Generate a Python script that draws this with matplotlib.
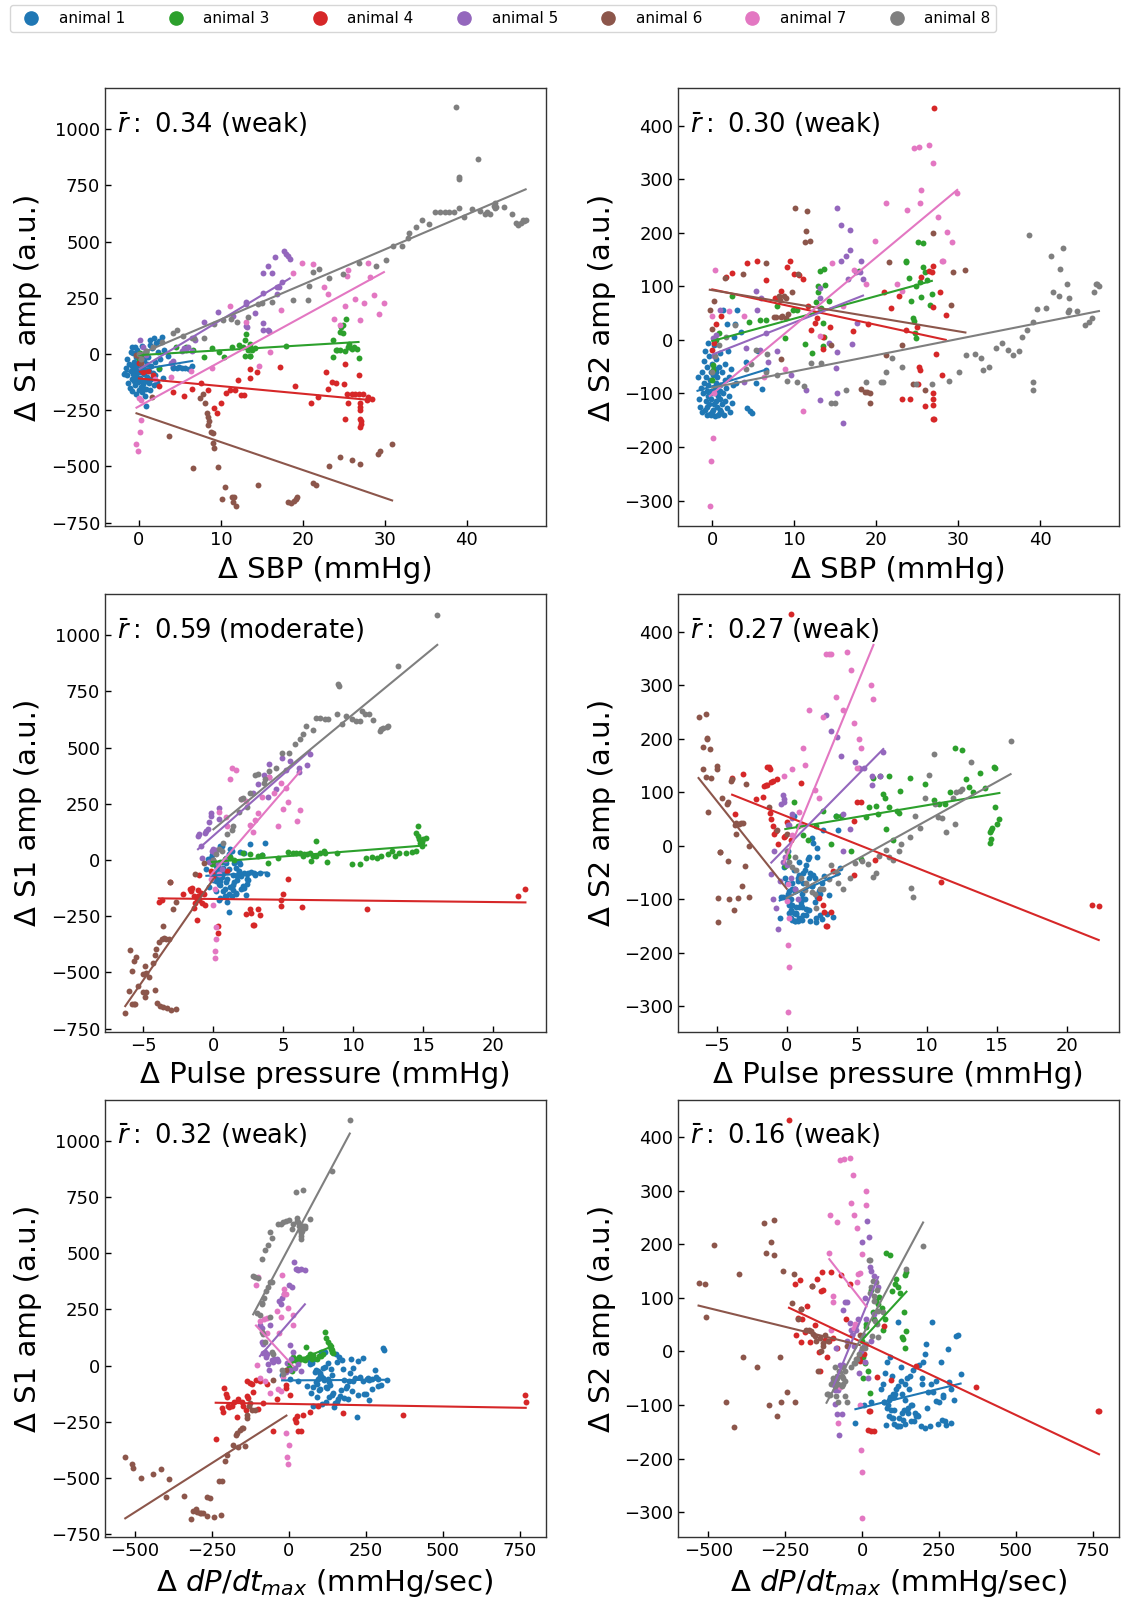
import matplotlib.pyplot as plt
from matplotlib.lines import Line2D
import numpy as np

labels = ['animal 1', 'animal 3', 'animal 4', 'animal 5', 'animal 6', 'animal 7', 'animal 8']
colors = ['tab:blue', 'tab:green', 'tab:red', 'tab:purple', 'tab:brown', 'tab:pink', 'tab:gray']
r_text = ['0.34 (weak)', '0.30 (weak)', '0.59 (moderate)', '0.27 (weak)', '0.32 (weak)', '0.16 (weak)']

# animal 1: (dSBP, dPP, ddP/dt, dS1, dS2) per beat
a1 = [(-1.6, 0.2, 95, -60, -110), (-1.5, 0.5, 120, -95, -125), (-1.4, 0.1, 88, -20, -90),
      (-1.3, 0.8, 140, -130, -60), (-1.2, 0.3, 105, -45, -135), (-1.1, 1.1, 160, -150, -100),
      (-1.0, -0.2, 75, 10, -40), (-1.0, 0.6, 130, -75, -80), (-0.9, 1.4, 170, -110, -130),
      (-0.9, 0.0, 82, 30, -20), (-0.8, 0.9, 150, -165, -115), (-0.8, 0.4, 110, -55, -70),
      (-0.7, 1.7, 190, -90, -140), (-0.7, -0.4, 70, 5, -95), (-0.6, 1.2, 145, -120, -50),
      (-0.6, 0.7, 100, -35, -125), (-0.5, 2.0, 210, -70, -105), (-0.5, 0.2, 90, -140, -85),
      (-0.4, 1.5, 175, -15, -120), (-0.4, 0.9, 125, -100, -30), (-0.3, 0.4, 78, -180, -138),
      (-0.3, 1.8, 230, -50, -75), (-0.2, 1.0, 135, -85, -110), (-0.2, -0.1, 68, 20, -60),
      (-0.1, 2.2, 250, -125, -95), (-0.1, 0.6, 115, -65, -140), (0.0, 1.3, 155, -160, -45),
      (0.0, 0.3, 85, -30, -100), (0.1, 2.4, 270, -105, -130), (0.1, 0.8, 118, -5, -65),
      (0.2, 1.6, 180, -145, -120), (0.2, 0.1, 92, -80, -10), (0.3, 1.1, 140, -40, -90),
      (0.3, 2.1, 205, -115, -143), (0.4, 0.5, 108, -170, -80), (0.4, 1.9, 240, 35, -55),
      (0.5, 0.7, 128, -60, -115), (0.5, 1.4, 165, -135, -35), (0.6, 0.2, 96, -25, -125),
      (0.6, 2.5, 290, -90, -70), (0.7, 1.0, 148, -185, -105), (0.7, 0.6, 112, -10, -140),
      (0.8, 1.7, 195, -70, -50), (0.8, -0.3, 72, -120, -95), (0.9, 1.2, 158, 15, -130),
      (0.9, 2.3, 262, -155, -85), (1.0, 0.4, 102, -45, -110), (1.0, 1.5, 185, -100, -25),
      (1.1, 0.9, 138, -15, -135), (1.2, 2.0, 225, -130, -60), (1.2, 0.3, 88, -75, -120),
      (1.3, 1.3, 162, 40, -100), (1.4, 0.8, 122, -160, -140), (1.5, 1.8, 215, -55, -75),
      (1.5, 0.5, 98, -110, -45), (1.6, 1.1, 172, 25, -115), (1.7, 2.4, 300, -85, -90),
      (1.8, 0.7, 132, -140, -128), (1.9, 1.6, 198, -35, -20), (2.0, 0.2, 80, -95, -105),
      (2.1, 1.2, 152, 50, -70), (2.2, 2.1, 245, -125, -135), (2.3, 0.9, 126, 10, -55),
      (2.4, 1.4, 178, -65, -118), (2.5, 0.6, 105, 60, -85), (2.6, 1.9, 280, -20, 5),
      (2.8, 3.7, 306, 77, 29), (1.8, 2.6, 310, 70, 30), (1.3, 0.5, 116, 62, 55),
      (2.9, 0.4, 100, -105, -80), (0.8, 1.1, 220, -230, -139), (4.1, 3.8, 320, -64, -42),
      (4.2, 2.9, 258, -56, -128), (4.6, 3.3, 290, -60, -133), (4.9, 2.5, 271, -58, -137),
      (5.3, 2.4, 262, -62, -81), (5.6, 2.2, 255, -60, -20), (6.1, 3.0, 240, -68, -92),
      (6.5, 2.7, 283, -52, -57), (3.5, 1.8, 209, -10, 14), (3.0, 3.5, 226, 20, 55),
      (-0.5, 2.2, 203, 30, -5), (0.0, -0.5, -22, -40, -134), (0.3, 0.1, 5, -60, -100),
      (-1.8, 0.0, 60, -90, -70), (1.0, 0.0, 30, -70, -95), (0.5, 1.6, 193, -150, -60)]

# other animals: (x, dS1, dS2) per beat, one list per x variable
a3_sbp = [(0.0, -20, -75), (0.1, -10, -46), (0.1, 5, -56), (0.4, -5, 0), (0.8, 10, 12), (2.4, -60, 82),
          (4.5, 33, 33), (5.8, 30, 37), (6.6, 20, 37), (7.9, -12, 64), (8.9, 25, 3), (9.8, 10, 56),
          (10.4, -12, 56), (11.3, 30, -8), (12.2, 40, -25), (12.7, 33, 70), (12.9, -10, 100), (12.9, 62, 90),
          (13.1, 90, 128), (13.3, 18, 60), (13.5, -9, 31), (13.5, -9, -12), (13.6, 45, 6), (13.6, 30, 132),
          (13.8, 20, 103), (14.2, 25, 72), (17.9, 36, 128), (23.7, -15, 145), (23.7, 62, 148), (24.0, 18, 116),
          (24.2, 18, 73), (24.5, 97, 40), (24.6, 18, 36), (24.7, 122, 12), (24.9, 129, 3), (24.9, 92, 101),
          (25.1, 15, 183), (25.3, 154, 109), (25.5, 33, 80), (25.7, 33, 181), (25.7, 45, 137), (26.0, 24, 126),
          (26.2, 33, 111), (26.6, 24, 65), (26.8, -16, 86)]
a4_sbp = [(0.0, -40, -19), (0.2, -70, -5), (0.5, -80, 30), (1.1, -75, 44), (1.7, -95, 117), (2.4, -142, 125),
          (4.2, -168, 143), (5.5, -187, 148), (6.5, -157, 111), (7.6, -131, 78), (8.4, -160, 92), (9.1, -239, 137),
          (9.5, -264, 148), (10.0, -217, 123), (10.6, -172, 121), (11.1, -160, 113), (11.7, -160, 64),
          (12.1, -116, 19), (12.5, -182, 31), (12.8, -182, 40), (13.5, -65, -17), (13.5, -108, 5), (14.4, -82, 24),
          (17.2, -59, 16), (19.0, -142, 29), (21.0, -220, 90), (21.8, -190, 60), (22.8, -82, 81), (23.1, -157, -110),
          (23.6, -123, 19), (24.1, -128, -111), (25.0, -134, 24), (25.1, -289, -83), (25.2, -45, -50),
          (25.4, -180, -56), (25.5, -217, 118), (26.0, -180, -123), (26.4, -180, 129), (26.8, -180, 127),
          (26.9, -95, 138), (27.0, -217, 62), (27.0, -235, -100), (27.0, -250, -110), (27.0, -289, -121),
          (27.0, -323, -147), (27.1, -300, 433), (27.1, -310, -148), (27.3, -180, -26), (27.8, -205, 90),
          (28.0, -190, -65), (28.5, -200, 47)]
a5_sbp = [(0.1, 62, 3), (0.2, -20, -30), (0.5, 30, 10), (0.9, -5, 55), (3.9, -40, -78), (4.1, -31, -16),
          (5.3, 15, 92), (5.5, 25, 56), (5.8, 20, -19), (6.0, 30, 79), (6.5, 15, 12), (6.8, 62, -42),
          (7.9, 141, -20), (9.6, 185, -66), (11.5, 170, -93), (13.1, 233, 97), (13.1, 223, 56), (13.1, 126, -113),
          (13.2, 122, 78), (14.2, 181, -6), (15.1, 137, -53), (15.2, 107, 246), (15.2, 270, -100), (15.7, 107, 215),
          (15.9, 104, -156), (16.8, 267, 206), (16.8, 300, 168), (17.1, 300, -8), (15.2, 362, -22), (16.3, 362, 157),
          (15.7, 393, 148), (16.6, 430, 114), (17.5, 320, 126), (17.7, 460, 31), (18.0, 445, 126), (18.2, 435, 148),
          (18.4, 423, 114)]
a6_sbp = [(-0.3, -5, 56), (0.0, -10, 21), (0.2, -40, 73), (1.6, -193, 116), (3.7, -365, 123), (6.6, -509, 144),
          (7.5, -197, 42), (7.8, -180, 42), (8.1, -217, 82), (8.3, -264, 75), (8.4, -280, 42), (8.5, -300, 44),
          (8.4, -318, -36), (8.8, -346, 82), (9.0, -350, 40), (9.0, -395, 78), (9.2, -420, 48), (9.7, -502, 89),
          (10.1, -643, 247), (10.5, -590, 123), (11.3, -638, 182), (11.6, -638, 241), (11.9, -677, 184),
          (11.5, -660, 204), (14.5, -583, -9), (18.2, -660, -92), (18.6, -665, -97), (18.9, -655, -97),
          (19.2, -645, -118), (19.3, -635, -100), (21.2, -573, -29), (21.6, -583, 145), (23.2, -497, -9),
          (24.5, -457, -82), (26.0, -472, -93), (27.0, -491, 200), (29.2, -447, 65), (29.4, -430, 126),
          (30.9, -401, 130)]
a7_sbp = [(-0.3, -402, -310), (-0.1, -432, -226), (0.1, -346, -184), (0.2, -294, -100), (0.0, -197, 45),
          (0.3, -205, 131), (2.0, -113, 53), (3.9, -101, 45), (6.3, -75, -70), (8.9, -64, -55), (11.1, 215, -133),
          (13.1, 144, 7), (14.6, -53, 144), (16.0, 9, 64), (17.3, 196, 130), (18.8, 359, 105), (19.9, 407, 185),
          (21.2, 399, 255), (22.6, 300, 105), (23.1, 266, 92), (23.8, 157, 242), (24.6, 129, 359), (25.2, 215, 361),
          (25.5, 374, 279), (25.4, 347, 255), (26.4, 246, 363), (27.0, 151, 330), (27.5, 229, 230), (28.0, 407, 148),
          (28.2, 344, 148), (28.7, 261, 202), (29.3, 178, 182), (29.9, 226, 275)]
a8_sbp = [(0.0, 0, -60), (0.3, -20, -31), (0.8, 15, -10), (1.7, 30, 6), (2.8, 55, 28), (4.1, 95, -55),
          (4.7, 107, -45), (5.4, 80, -19), (6.5, 70, -60), (6.7, 72, -27), (7.9, 70, -65), (9.1, 134, -77),
          (10.3, 150, -79), (11.2, 154, -86), (12.0, 141, -44), (13.3, 163, -44), (14.5, 221, -117), (15.0, 226, -117),
          (16.3, 232, -93), (18.8, 240, -79), (20.6, 240, -79), (20.8, 304, -79), (21.2, 367, -60), (22.0, 378, -34),
          (23.2, 338, -50), (24.9, 356, -82), (26.8, 404, -82), (28.9, 392, -77), (30.1, 417, -60), (31.0, 482, -29),
          (32.1, 482, -27), (32.8, 516, -33), (33.0, 539, -56), (33.8, 567, -51), (34.6, 597, -16), (35.4, 579, -6),
          (36.1, 634, -19), (36.7, 634, -29), (37.4, 631, -21), (37.8, 631, 6), (38.4, 632, 19), (38.7, 1097, 196),
          (39.1, 787, 34), (39.1, 778, -78), (39.1, 650, -93), (39.7, 608, 57), (40.7, 644, 60), (41.4, 867, 156),
          (41.6, 637, 90), (42.3, 623, 82), (42.5, 630, 133), (42.8, 623, 172), (43.3, 660, 105), (43.5, 671, 79),
          (43.4, 649, 52), (43.6, 655, 55), (44.5, 653, 53), (45.5, 625, 27), (46.0, 585, 34), (46.3, 573, 40),
          (46.6, 585, 90), (46.9, 597, 105), (47.2, 597, 100), (47.0, 590, 105)]

a3_pp = [(-0.1, -20, -37), (0.1, -15, -19), (0.5, -10, 81), (0.8, 5, 37), (1.2, 15, 20), (1.5, 0, 10),
         (2.1, 33, 37), (2.6, 25, 65), (3.2, 18, 3), (3.5, 20, 56), (3.9, -12, 56), (4.6, 10, -9), (5.3, 36, -25),
         (5.7, 33, 53), (5.9, 33, 72), (6.2, 33, 126), (6.4, 18, 75), (6.5, 25, 59), (6.7, 25, 131), (6.9, 33, 97),
         (7.0, -4, 90), (7.1, 18, 31), (7.3, 85, 131), (7.3, 18, 72), (7.6, 33, 11), (7.9, 40, 65), (8.0, 33, 62),
         (8.1, -10, 102), (8.8, 33, 126), (9.9, -19, 115), (10.5, -19, 85), (10.9, 10, 78), (11.3, 15, 78),
         (11.7, 10, 100), (12.0, 18, 182), (12.5, 28, 179), (12.8, 40, 125), (13.0, 18, 109), (13.3, 33, 100),
         (13.8, 33, 136), (14.2, 37, 108), (14.5, 122, 25), (14.5, 40, 6), (14.6, 151, 30), (14.6, 107, 12),
         (14.7, 92, 34), (14.8, 77, 148), (14.9, 62, 145), (14.9, 80, 73), (15.0, 92, 40), (15.2, 96, 50)]
a4_pp = [(-3.9, -185, 126), (-3.7, -180, 60), (-3.1, -96, 134), (-2.2, -150, 88), (-1.7, -130, 92),
         (-1.6, -140, 111), (-1.5, -123, 114), (-1.4, -160, 148), (-1.4, -215, 114), (-1.3, -190, 148),
         (-1.2, -175, 62), (-1.2, -269, 143), (-1.1, -160, 50), (-1.1, -135, 120), (-1.0, -68, 37),
         (-1.0, -180, 121), (-0.9, -145, 22), (-0.8, -190, 28), (-0.7, -150, 125), (-0.6, -202, 4),
         (-0.2, -49, 16), (-0.1, -60, 19), (0.0, -70, 44), (0.3, -323, 433), (0.3, -294, 10), (1.0, -49, 117),
         (2.3, -242, -98), (2.6, -220, -111), (2.7, -235, -124), (2.8, -290, -149), (2.9, -290, -150),
         (3.2, -220, -123), (3.3, -246, -47), (4.8, -178, 46), (4.8, -205, -54), (5.0, -150, 81), (5.3, -86, 81),
         (6.3, -209, -27), (11.0, -217, -67), (21.8, -160, -111), (22.3, -130, -112)]
a5_pp = [(-1.1, 107, -53), (-1.0, 114, -100), (-0.9, 60, -9), (-0.8, 10, -117), (-0.6, 122, -156),
         (-0.5, 129, -65), (-0.4, 137, 78), (-0.3, 169, 95), (-0.2, 211, 88), (-0.2, 196, 82), (-0.1, 40, -20),
         (0.0, 50, -35), (0.1, 30, 39), (0.2, 45, 39), (0.4, 230, 52), (0.4, 184, 60), (0.3, -20, -60),
         (0.6, -40, -80), (-0.3, -10, -30), (0.8, 0, -100), (2.8, 300, 245), (3.2, 340, 214), (3.6, 380, 204),
         (3.9, 278, 167), (4.0, 426, -9), (4.0, 371, 60), (4.5, 315, 31), (4.9, 455, 156), (5.2, 400, 146),
         (5.5, 441, 146), (6.1, 390, 131), (6.1, 410, 113), (6.7, 423, 131), (6.9, 470, 175)]
a6_pp = [(-6.3, -680, 240), (-6.0, -583, 184), (-5.95, -402, 144), (-5.8, -643, 129), (-5.8, -494, 246),
         (-5.7, -643, 202), (-5.7, -450, 199), (-5.6, -643, 64), (-5.5, -432, 181), (-5.4, -560, 126),
         (-5.0, -588, 149), (-5.0, -509, 144), (-4.9, -472, -97), (-4.9, -610, -142), (-4.8, -588, -11),
         (-4.8, -502, -11), (-4.6, -520, 89), (-4.3, -460, 78), (-4.2, -424, -29), (-4.2, -579, 82),
         (-4.1, -398, -100), (-4.0, -635, 121), (-3.9, -365, 125), (-3.8, -650, -120), (-3.7, -350, 39),
         (-3.6, -294, 22), (-3.6, -655, 42), (-3.5, -346, -97), (-3.4, -350, 40), (-3.3, -660, 42),
         (-3.2, -353, -75), (-3.1, -96, 42), (-3.0, -668, -37), (-2.9, -220, 116), (-2.7, -187, 0),
         (-2.7, -662, -95), (-1.3, -64, 72), (-0.7, -15, 30), (0.0, 0, 22)]
a7_pp = [(-0.2, -86, 130), (0.0, -200, -103), (0.1, -405, -311), (0.1, -435, -185), (0.1, -131, -72),
         (0.2, -350, -226), (0.2, -297, -134), (0.4, 214, 143), (0.4, -64, 20), (0.9, 193, 64), (1.0, 150, 39),
         (1.2, 359, 183), (1.3, 407, 150), (1.6, 399, 254), (2.0, 270, 105), (2.3, 263, 90), (2.6, 156, 241),
         (2.8, 126, 358), (3.0, 180, 359), (3.2, 211, 359), (3.5, 280, 278), (4.0, 370, 254), (4.3, 300, 361),
         (4.6, 151, 329), (4.8, 341, 229), (5.0, 226, 145), (5.2, 322, 200), (5.3, 258, 182), (6.0, 174, 301),
         (6.2, 223, 274)]
a8_pp = [(0.0, 0, -10), (0.2, 25, -30), (0.4, 47, -40), (0.6, 40, -20), (0.7, 77, -45), (1.0, 114, -60),
         (1.3, 132, -82), (1.4, 151, -70), (1.8, 215, -86), (2.0, 270, -90), (2.1, 275, -117), (2.4, 237, -81),
         (2.6, 300, -81), (3.0, 378, -62), (3.2, 381, -36), (3.6, 344, -50), (3.7, 359, -70), (4.0, 396, -81),
         (4.5, 411, -61), (4.9, 478, -32), (5.4, 478, -28), (5.8, 515, -34), (6.2, 537, -58), (6.4, 562, -51),
         (6.6, 594, -19), (7.1, 577, -8), (7.3, 631, -20), (7.6, 631, -26), (8.0, 626, -9), (8.2, 626, 4),
         (8.8, 648, 17), (8.9, 785, -79), (9.0, 775, -95), (9.2, 604, 56), (9.5, 641, 33), (9.9, 626, 90),
         (10.2, 619, 132), (10.5, 619, 171), (10.6, 663, 78), (10.8, 648, 53), (11.1, 651, 51), (11.4, 622, 26),
         (11.9, 574, 90), (12.0, 582, 40), (12.1, 585, 100), (12.4, 592, 103), (12.5, 597, 106), (13.2, 864, 156),
         (16.0, 1092, 195)]

a3_dpdt = [(3, 15, -11), (9, 30, -21), (14, 38, 51), (20, 23, -36), (25, 30, -77), (30, 15, 115), (34, 38, 73),
           (38, 30, 60), (45, 30, 95), (52, 23, 88), (55, 83, 101), (63, 38, 82), (68, 53, 40), (74, 30, 60),
           (79, 45, 183), (90, 30, 180), (98, 42, 113), (106, 42, 126), (111, 53, 136), (117, 151, 120),
           (122, 121, 109), (128, 106, 26), (133, 90, 23), (138, 75, 7), (144, 57, 148), (140, 60, 143),
           (141, 70, 39), (137, 80, 73), (3, -15, -50), (11, -23, 45), (0, -5, 20)]
a4_dpdt = [(-238, -328, 432), (-219, -190, 126), (-215, -205, 30), (-210, -101, 63), (-203, -128, 133),
           (-200, -140, 17), (-199, -182, 80), (-195, -186, 60), (-186, -182, 37), (-180, -160, 85),
           (-170, -227, 17), (-164, -148, 122), (-154, -163, 50), (-148, -182, 135), (-140, -197, -1),
           (-137, -68, -36), (-135, -134, 113), (-132, -146, 148), (-127, -76, 115), (-121, -80, 21),
           (-116, -118, -11), (-108, -65, 20), (-100, -194, 148), (-94, -68, 25), (-83, -166, 7), (-70, -80, 143),
           (-53, -293, 60), (-40, -147, 126), (-10, -88, -11), (-8, -100, -17), (5, -130, -5), (20, -239, -147),
           (22, -250, -112), (25, -224, -112), (30, -292, -148), (38, -292, -149), (47, -219, -47), (70, -206, 48),
           (95, -182, -54), (176, -212, -27), (371, -219, -67), (768, -133, -111), (770, -163, -112)]
a5_dpdt = [(-94, 181, -55), (-89, 166, -98), (-89, 106, -72), (-84, 55, 6), (-83, 98, -116), (-78, 60, -72),
           (-76, 40, -156), (-72, 53, -25), (-67, 8, -116), (-64, -18, 78), (-62, 181, -25), (-56, 23, 92),
           (-51, 15, 20), (-48, 30, 92), (-40, 30, 53), (-37, 20, 40), (-32, 287, 30), (-27, 272, 10),
           (-21, 302, 40), (-15, 318, 60), (-1, 358, 204), (9, 351, 100), (16, 461, 244), (23, 430, 214),
           (27, 430, 157), (30, 425, 151), (40, 428, 141), (52, 424, 120), (-10, -30, -40), (-5, 10, 0),
           (2, -20, 30), (8, 30, -20), (12, 60, 60), (5, 90, 10), (20, -10, -50), (30, 5, 20), (38, -25, 70)]
a6_dpdt = [(-532, -408, 128), (-511, -436, 125), (-508, -454, 64), (-482, -499, 199), (-443, -481, -95),
           (-417, -461, -142), (-399, -587, 145), (-389, -504, -11), (-341, -582, -30), (-319, -684, 240),
           (-313, -647, 183), (-302, -638, -100), (-298, -650, 204), (-288, -655, 180), (-286, -658, 246),
           (-278, -658, -120), (-267, -670, -11), (-265, -587, -95), (-257, -590, 150), (-244, -673, -75),
           (-227, -514, 90), (-221, -665, 145), (-219, -514, -95), (-208, -426, 60), (-200, -400, 80),
           (-183, -352, 40), (-173, -310, 40), (-168, -300, 39), (-164, -363, 123), (-160, -287, 32),
           (-154, -280, 29), (-149, -280, 20), (-143, -360, -36), (-137, -234, 25), (-135, -220, 1),
           (-129, -180, 15), (-127, -165, 10), (-121, -197, 30), (-110, -197, 20), (-51, -63, 10), (-8, -20, 30)]
a7_dpdt = [(-107, 358, 184), (-105, 3, 254), (-100, 393, 40), (-94, 197, 104), (-94, -57, 92), (-81, 209, 241),
           (-78, -68, -134), (-72, 212, 358), (-72, 144, -67), (-60, -121, 359), (-40, 242, 361), (-35, -103, 278),
           (-31, 144, 330), (-27, -113, 255), (-26, 215, 44), (-24, 401, 52), (-18, -53, 230), (-16, 340, 130),
           (-15, 318, 145), (-8, 318, 146), (-8, -300, -100), (-5, -408, -184), (-2, -439, -311), (0, -352, -226),
           (-2, 257, 182), (12, 227, 300), (14, 180, 274)]
a8_dpdt = [(-116, 400, -79), (-110, 395, -79), (-105, 234, -81), (-100, 390, -61), (-94, 227, -49),
           (-89, 476, -30), (-89, 272, -55), (-89, 151, -64), (-86, 280, -83), (-83, 139, -45), (-81, 302, -50),
           (-78, 514, -61), (-78, 106, -95), (-76, 333, -36), (-67, 537, -45), (-67, 350, -64), (-62, 593, -50),
           (-62, 370, -30), (-62, 215, -61), (-56, 567, -36), (-56, 372, -55), (-56, 60, -83), (-51, 53, -95),
           (-35, 631, -30), (-27, 630, -21), (-24, -18, -21), (-20, 640, -14), (-18, -38, -14), (-10, 645, -5),
           (1, 647, 7), (9, 608, 7), (14, 628, 14), (23, 774, 171), (25, 658, 110), (27, 643, 171), (30, 640, 120),
           (33, 620, 29), (36, 605, 132), (38, 590, 104), (40, 575, 95), (41, 563, 57), (44, 600, 129),
           (47, 782, 115), (47, 620, 51), (52, 623, 76), (52, 610, 26), (68, 650, 73), (141, 865, 154),
           (198, 1092, 196)]

a1_sbp = [(r[0], r[3], r[4]) for r in a1]
a1_pp = [(r[1], r[3], r[4]) for r in a1]
a1_dpdt = [(r[2], r[3], r[4]) for r in a1]

rows = [
    ([a1_sbp, a3_sbp, a4_sbp, a5_sbp, a6_sbp, a7_sbp, a8_sbp], 'Δ SBP (mmHg)', (-4.15, 49.65), [0, 10, 20, 30, 40]),
    ([a1_pp, a3_pp, a4_pp, a5_pp, a6_pp, a7_pp, a8_pp], 'Δ Pulse pressure (mmHg)', (-7.75, 23.75), [-5, 0, 5, 10, 15, 20]),
    ([a1_dpdt, a3_dpdt, a4_dpdt, a5_dpdt, a6_dpdt, a7_dpdt, a8_dpdt], r'Δ $dP/dt_{max}$ (mmHg/sec)', (-598, 835),
     [-500, -250, 0, 250, 500, 750]),
]
ylabels = ['Δ S1 amp (a.u.)', 'Δ S2 amp (a.u.)']
ylims = [(-764, 1183), (-347, 470)]
yticks = [[-750, -500, -250, 0, 250, 500, 750, 1000], [-300, -200, -100, 0, 100, 200, 300, 400]]

fig = plt.figure(figsize=(11.31, 15.97), dpi=100)
lefts = [0.0928, 0.5997]
bottoms = [0.6708, 0.3540, 0.0374]

for i, (sets, xlabel, xlim, xticks) in enumerate(rows):
    for j in range(2):
        ax = fig.add_axes([lefts[j], bottoms[i], 0.3897, 0.2740])
        for k, data in enumerate(sets):
            arr = np.array(data, dtype=float)
            x = arr[:, 0]
            y = arr[:, 1 + j]
            ax.scatter(x, y, s=18, color=colors[k], linewidths=0)
            b, a = np.polyfit(x, y, 1)
            xs = np.array([x.min(), x.max()])
            ax.plot(xs, a + b * xs, color=colors[k], lw=1.5)
        ax.set_xlim(xlim)
        ax.set_ylim(ylims[j])
        ax.set_xticks(xticks)
        ax.set_yticks(yticks[j])
        ax.tick_params(direction='in', labelsize=13, length=4, width=1)
        for sp in ax.spines.values():
            sp.set_color('0.2')
            sp.set_linewidth(1.0)
        ax.set_xlabel(xlabel, fontsize=21, labelpad=5)
        ax.set_ylabel(ylabels[j], fontsize=21, labelpad=6)
        ax.text(0.027, 0.917, r'$\bar{r}:$ ' + r_text[2 * i + j], transform=ax.transAxes,
                fontsize=18.5, va='center', ha='left')

handles = [Line2D([], [], marker='o', linestyle='', color=c, markersize=9.5) for c in colors]
fig.legend(handles, labels, loc='upper left', bbox_to_anchor=(10 / 1131, 1 - 5 / 1597), ncol=7,
           fontsize=11, columnspacing=2.3, handletextpad=0.8, borderaxespad=0, frameon=True)

fig.savefig('out.png', dpi=100)
